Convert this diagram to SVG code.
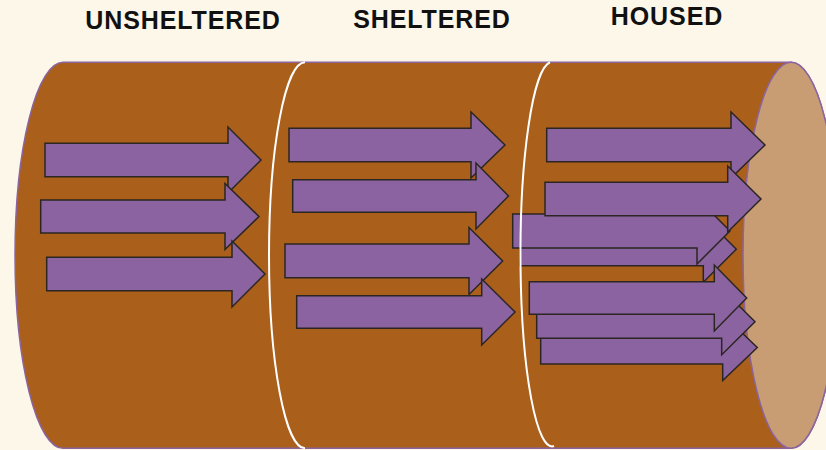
<svg xmlns="http://www.w3.org/2000/svg" width="826" height="450" viewBox="0 0 826 450">
<style>
.bg{fill:#FCF7E8}
.body{fill:#AA5F1B;stroke:#8B64A0;stroke-width:1.5}
.end{fill:#C99D74;stroke:#8B64A0;stroke-width:1.5}
.arr{fill:#8B63A0;stroke:#2B2622;stroke-width:1.5;stroke-linejoin:miter}
.div{fill:none;stroke:#FFFFFF;stroke-width:2}
.lbl{font-family:"Liberation Sans",Arial,sans-serif;font-weight:bold;font-size:25px;letter-spacing:0.9px;fill:#111111;text-anchor:middle}
</style>
<rect class="bg" x="0" y="0" width="826" height="450"/>
<g id="labels">
<text class="lbl" x="183" y="28.5">UNSHELTERED</text>
<text class="lbl" x="432" y="27.5">SHELTERED</text>
<text class="lbl" x="667" y="24.5">HOUSED</text>
</g>
<g id="cylinder">
<path class="body" d="M63,62.3 H791 A48,193 0 0 1 791,448.3 H63 A48,193 0 0 1 63,62.3 Z"/>
<ellipse class="end" cx="791" cy="255.3" rx="48" ry="193"/>
</g>
<g id="unsheltered-arrows">
<polygon id="u1" class="arr" points="45,143.3 228,143.3 228,127 261,160 228,193 228,176.7 45,176.7"/>
<polygon id="u2" class="arr" points="40.7,200 225,200 225,183.5 259,216.5 225,249.5 225,233 40.7,233"/>
<polygon id="u3" class="arr" points="46.7,257.3 232,257.3 232,241 265,274 232,307 232,290.7 46.7,290.7"/>
</g>
<g id="sheltered-arrows">
<polygon id="s1" class="arr" points="289,128.3 471,128.3 471,112 505,145 471,178 471,161.7 289,161.7"/>
<polygon id="s2" class="arr" points="292.7,179.8 476,179.8 476,163 508.5,196 476,229 476,212.3 292.7,212.3"/>
<polygon id="s3" class="arr" points="285,244 469,244 469,227.5 502.7,261 469,294.5 469,277.7 285,277.7"/>
<polygon id="s4" class="arr" points="296.7,295.7 481.7,295.7 481.7,279 515,312 481.7,345 481.7,328.3 296.7,328.3"/>
</g>
<g id="housed-arrows">
<polygon id="h1" class="arr" points="546.7,128.3 731,128.3 731,112 765,145 731,178 731,161.7 546.7,161.7"/>
<polygon id="h4" class="arr" points="520,232.7 703.3,232.7 703.3,216.2 736.3,249.2 703.3,282.2 703.3,265.7 520,265.7"/>
<polygon id="h3" class="arr" points="512.7,214 697,214 697,198 730,231 697,264 697,248 512.7,248"/>
<polygon id="h2" class="arr" points="545,182.3 727.7,182.3 727.7,166 761,199 727.7,232 727.7,215.7 545,215.7"/>
<polygon id="h7" class="arr" points="540.7,331 722.7,331 722.7,314.5 757.3,347.5 722.7,380.5 722.7,364 540.7,364"/>
<polygon id="h6" class="arr" points="536.7,305 721.7,305 721.7,288.7 755,321.7 721.7,354.7 721.7,338.3 536.7,338.3"/>
<polygon id="h5" class="arr" points="529.3,281.7 714.3,281.7 714.3,265 746.7,298 714.3,331 714.3,314.3 529.3,314.3"/>
</g>
<g id="dividers">
<path class="div" d="M305,62.3 A36,193 0 0 0 305,448.3"/>
<path class="div" d="M550,62.3 A31.5,192 0 0 0 554,446"/>
</g>
</svg>
